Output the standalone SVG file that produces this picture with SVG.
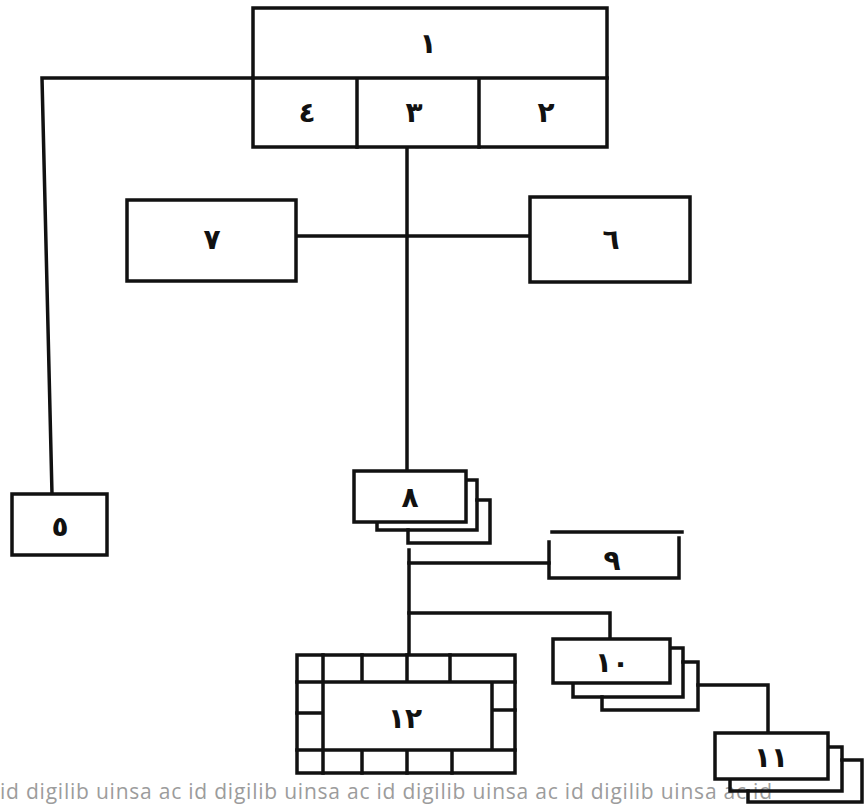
<svg xmlns="http://www.w3.org/2000/svg" width="864" height="806" viewBox="0 0 864 806">
<style>
.ln{fill:none;stroke:#111;stroke-width:3.5;stroke-linecap:square;stroke-linejoin:miter}
.bx{fill:#fff;stroke:#111;stroke-width:3.5}
.lb{font-family:"DejaVu Sans",sans-serif;font-size:28px;font-weight:bold;fill:#111;text-anchor:middle}
.wm{font-family:"Open Sans","DejaVu Sans",sans-serif;font-size:21px;fill:#9c9c9c}
</style>
<rect width="864" height="806" fill="#fff"/>
<text class="wm" x="0" y="799" textLength="772" lengthAdjust="spacing">id digilib uinsa ac id digilib uinsa ac id digilib uinsa ac id digilib uinsa ac id</text>
<g id="connectors" class="ln">
<path d="M253,78 H42 L52,494"/>
<path d="M407,147 V471"/>
<path d="M296,236 H530"/>
<path d="M409,550 V655"/>
<path d="M409,563 H549"/>
<path d="M409,613 H610 V639"/>
<path d="M698,685 H768 V733"/>
</g>
<g id="n1">
<rect class="bx" x="253" y="8" width="354" height="139"/>
<path class="ln" d="M253,78 H607 M357,78 V147 M479,78 V147"/>
<text class="lb" x="428" y="53">١</text>
<text class="lb" x="307" y="122">٤</text>
<text class="lb" x="414" y="122">٣</text>
<text class="lb" x="546" y="122">٢</text>
</g>
<g id="n7">
<rect class="bx" x="127" y="200" width="169" height="81"/>
<text class="lb" x="212" y="249">٧</text>
</g>
<g id="n6">
<rect class="bx" x="530" y="197" width="160" height="85"/>
<text class="lb" x="611" y="249">٦</text>
</g>
<g id="n5">
<rect class="bx" x="12" y="494" width="95" height="61"/>
<text class="lb" x="60" y="536">٥</text>
</g>
<g id="n8">
<path class="ln" d="M477,500 H490 V543 H408 V530"/>
<path class="ln" d="M466,480 H477 V530 H377 V522"/>
<rect class="bx" x="354" y="471" width="112" height="51"/>
<text class="lb" x="410" y="507">٨</text>
</g>
<g id="n9">
<path class="ln" d="M552,532 H682 M549,542 V578 H679 M679,538 V576"/>
<text class="lb" x="612" y="570">٩</text>
</g>
<g id="n10">
<path class="ln" d="M683,662 H698 V710 H602 V697"/>
<path class="ln" d="M670,648 H683 V697 H573 V683"/>
<rect class="bx" x="553" y="639" width="117" height="44"/>
<text class="lb" x="612" y="672">١٠</text>
</g>
<g id="n11">
<path class="ln" d="M842,760 H862 V802 H748 V791"/>
<path class="ln" d="M828,747 H842 V791 H730 V779"/>
<rect class="bx" x="715" y="733" width="113" height="46"/>
<text class="lb" x="771" y="767">١١</text>
</g>
<g id="n12">
<rect class="bx" x="297" y="655" width="218" height="118"/>
<path class="ln" d="M297,682 H515 M297,750 H515 M323,655 V773 M492,682 V750 M362,655 V682 M407,655 V682 M450,655 V682 M362,750 V773 M407,750 V773 M452,750 V773 M297,713 H323 M492,710 H515"/>
<text class="lb" x="405" y="728">١٢</text>
</g>
</svg>
